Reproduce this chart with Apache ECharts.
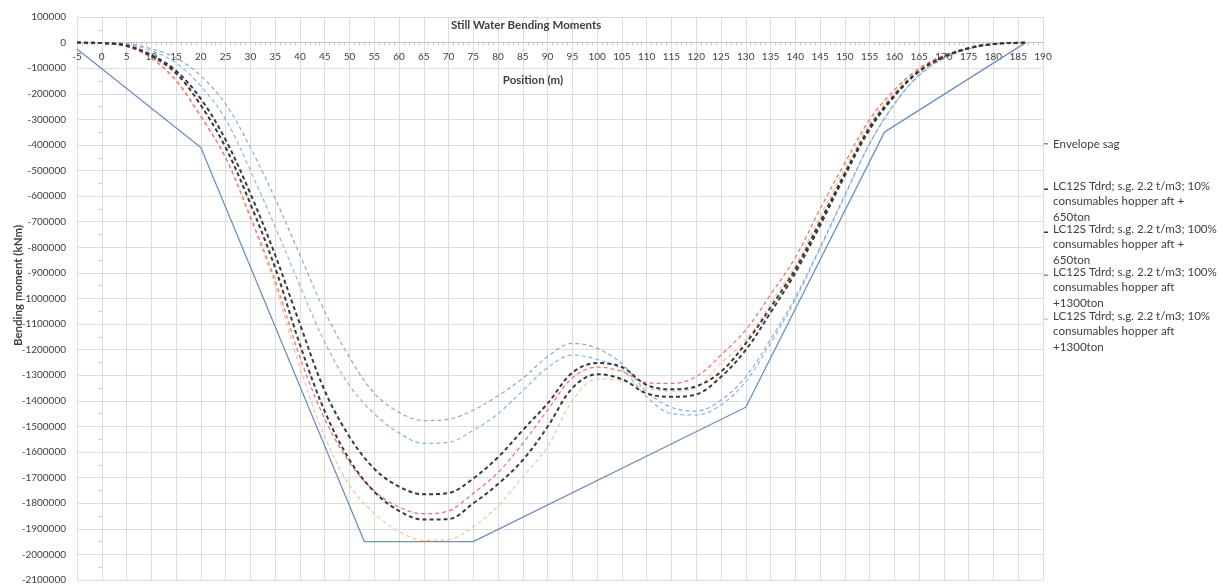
<!DOCTYPE html>
<html>
<head>
<meta charset="utf-8" />
<title>Still Water Bending Moments</title>
<script src="https://cdn.jsdelivr.net/npm/echarts@6.0.0/dist/echarts.min.js"></script>
<style type="text/css">
html, body { margin: 0; padding: 0; background: #fff; }
#chart { width: 1223px; height: 586px; }
</style>
</head>
<body>
<div id="chart"></div>
<script type="text/javascript">
// positions along the ship (m)
var positions = [-5, 0, 5, 10, 15, 20, 25, 30, 35, 40, 45, 50, 55, 60, 65, 70, 75, 80, 85, 90,
                 95, 100, 105, 110, 115, 120, 125, 130, 135, 140, 145, 150, 155, 160, 165, 170, 175, 180, 185, 186.5];

// envelope (solid line)
var envelopeX = [-5, 20, 53, 75, 130, 158, 186.5];
var envelopeY = [-25000, -410000, -1950000, -1950000, -1425000, -350000, 0];

// loading conditions (kNm)
var lc10_650 = [0, -2000, -12000, -52000, -120000, -245000, -410000, -630000, -880000, -1180000, -1440000, -1630000, -1755000, -1830000, -1864000, -1862000, -1800000, -1725000, -1631000, -1501000,
                -1350000, -1296000, -1315000, -1371000, -1384000, -1375000, -1306000, -1201000, -1055000, -900000, -715000, -520000, -340000, -210000, -113000, -56000, -22000, -5500, -500, 0];
var lc100_650 = [0, -2000, -11000, -48000, -110000, -220000, -380000, -590000, -830000, -1100000, -1360000, -1540000, -1665000, -1735000, -1765000, -1760000, -1703000, -1620000, -1514000, -1410000,
                 -1290000, -1252000, -1268000, -1338000, -1355000, -1343000, -1286000, -1175000, -1035000, -885000, -700000, -510000, -330000, -205000, -110000, -55000, -22000, -5500, -500, 0];
var lc100_1300 = [0, -3000, -15000, -60000, -150000, -290000, -450000, -680000, -930000, -1230000, -1470000, -1640000, -1752000, -1815000, -1841000, -1830000, -1761000, -1680000, -1566000, -1436000,
                  -1310000, -1268000, -1285000, -1329000, -1332000, -1305000, -1221000, -1123000, -985000, -840000, -650000, -470000, -300000, -185000, -100000, -50000, -20000, -5000, -500, 0];
var lc10_1300 = [0, -3000, -16000, -62000, -145000, -285000, -450000, -690000, -950000, -1270000, -1540000, -1730000, -1840000, -1910000, -1945000, -1942000, -1892000, -1810000, -1697000, -1579000,
                 -1400000, -1314000, -1320000, -1351000, -1362000, -1348000, -1253000, -1162000, -1020000, -870000, -680000, -490000, -315000, -195000, -105000, -52000, -21000, -5000, -500, 0];
var hogA = [0, -1000, -6000, -32000, -80000, -170000, -300000, -500000, -720000, -950000, -1170000, -1340000, -1450000, -1525000, -1566000, -1562000, -1515000, -1450000, -1360000, -1270000,
            -1221000, -1238000, -1278000, -1384000, -1450000, -1455000, -1416000, -1325000, -1175000, -1005000, -805000, -600000, -395000, -240000, -125000, -60000, -24000, -6000, -500, 0];
var hogB = [0, -1000, -4000, -24000, -60000, -130000, -240000, -410000, -610000, -830000, -1050000, -1230000, -1370000, -1445000, -1477000, -1472000, -1436000, -1380000, -1312000, -1227000,
            -1175000, -1195000, -1255000, -1364000, -1425000, -1440000, -1397000, -1306000, -1160000, -995000, -800000, -595000, -395000, -240000, -128000, -62000, -25000, -6000, -500, 0];

var names = [
  'Envelope sag',
  'LC12S Tdrd; s.g. 2.2 t/m3; 10% consumables hopper aft + 650ton',
  'LC12S Tdrd; s.g. 2.2 t/m3; 100% consumables hopper aft + 650ton',
  'LC12S Tdrd; s.g. 2.2 t/m3; 100% consumables hopper aft +1300ton',
  'LC12S Tdrd; s.g. 2.2 t/m3; 10% consumables hopper aft +1300ton'
];
var legendText = [
  'Envelope sag',
  'LC12S Tdrd; s.g. 2.2 t/m3; 10%\nconsumables hopper aft +\n650ton',
  'LC12S Tdrd; s.g. 2.2 t/m3; 100%\nconsumables hopper aft +\n650ton',
  'LC12S Tdrd; s.g. 2.2 t/m3; 100%\nconsumables hopper aft\n+1300ton',
  'LC12S Tdrd; s.g. 2.2 t/m3; 10%\nconsumables hopper aft\n+1300ton'
];

function pairs(xs, ys) {
  var out = [];
  for (var i = 0; i < xs.length; i++) out.push([xs[i], ys[i]]);
  return out;
}

function dashed(name, values, color, width) {
  return {
    name: name,
    type: 'line',
    smooth: 0.35,
    showSymbol: false,
    symbol: 'none',
    color: color,
    lineStyle: { color: color, width: width, type: [4, 3] },
    data: pairs(positions, values),
    z: 3
  };
}

var font = 'Lato, "Liberation Sans", sans-serif';
// icon with bar at the first text line
var tallIcon = 'path://M0,0h0.01v0.01h-0.01z M0,7h5v2h-5z M0,46h0.01v0.01h-0.01z';

var legendTops = [136, 178, 221, 264, 308];
var legends = names.map(function (n, i) {
  return {
    left: 1044,
    top: legendTops[i],
    orient: 'vertical',
    padding: 0,
    selectedMode: false,
    itemWidth: 4,
    itemHeight: i === 0 ? 1.5 : 46,
    icon: i === 0 ? 'rect' : tallIcon,
    data: [n],
    formatter: function () { return legendText[i]; },
    textStyle: { fontFamily: font, fontSize: 11.6, color: '#404040', lineHeight: 15.5 }
  };
});

var chart = echarts.init(document.getElementById('chart'));

var gridLine = { color: '#DCDCDC', width: 1 };

var option = {
  animation: false,
  backgroundColor: '#ffffff',
  title: {
    text: 'Still Water Bending Moments',
    left: 451,
    top: 19,
    padding: 0,
    textStyle: { fontFamily: font, fontSize: 11.5, fontWeight: 'bold', color: '#404040' }
  },
  legend: legends,
  grid: [
    { left: 77, right: 180, top: 17, bottom: 6, outerBoundsMode: 'none' },
    // strip from the top of the plot down to zero, carries the x axis labels
    { left: 77, right: 180, top: 17, height: 25.6, outerBoundsMode: 'none' }
  ],
  xAxis: [
    {
      type: 'value', gridIndex: 0, min: -5, max: 190, interval: 5,
      axisLine: { show: false },
      axisTick: { show: false },
      axisLabel: { show: false },
      splitLine: { show: true, lineStyle: gridLine }
    },
    {
      type: 'value', gridIndex: 1, min: -5, max: 190, interval: 5,
      name: 'Position (m)',
      nameLocation: 'middle',
      nameGap: 32,
      nameTextStyle: { fontFamily: font, fontSize: 11.5, fontWeight: 'bold', color: '#404040', padding: [0, 54, 0, 0] },
      axisLine: { show: true, lineStyle: { color: '#C4C4C4' } },
      axisTick: { show: false },
      minorTick: { show: true, splitNumber: 5, length: 3, lineStyle: { color: '#C8C8C8' } },
      axisLabel: { fontFamily: font, fontSize: 10, color: '#404040', margin: 9 },
      splitLine: { show: false }
    }
  ],
  yAxis: [
    {
      type: 'value', gridIndex: 0, min: -2100000, max: 100000, interval: 100000,
      name: 'Bending moment (kNm)',
      nameLocation: 'middle',
      nameRotate: 90,
      nameGap: 53,
      nameMoveOverlap: false,
      nameTextStyle: { fontFamily: font, fontSize: 11.5, fontWeight: 'bold', color: '#404040', padding: [0, 0, 0, 26] },
      axisLine: { show: true, lineStyle: { color: '#DCDCDC' } },
      axisTick: { show: false },
      minorTick: { show: true, splitNumber: 2, length: 3, lineStyle: { color: '#C8C8C8' } },
      axisLabel: { fontFamily: font, fontSize: 10, color: '#404040', margin: 11, formatter: function (v) { return String(v); } },
      splitLine: { show: true, lineStyle: gridLine }
    },
    {
      type: 'value', gridIndex: 1, min: 0, max: 100000, show: false
    }
  ],
  series: [
    {
      name: names[0],
      type: 'line',
      showSymbol: false,
      symbol: 'none',
      color: '#6F8FC3',
      lineStyle: { color: '#6F8FC3', width: 1.3 },
      data: pairs(envelopeX, envelopeY),
      z: 2
    },
    dashed('Hogging check A', hogA, '#84B8E6', 1.2),
    dashed('Hogging check B', hogB, '#92A8CC', 1.2),
    dashed(names[4], lc10_1300, '#F8C29C', 1.2),
    dashed(names[3], lc100_1300, '#F26E6E', 1.2),
    dashed(names[1], lc10_650, '#3A3A3A', 2),
    dashed(names[2], lc100_650, '#3A3A3A', 2)
  ]
};

chart.setOption(option);
</script>
</body>
</html>
